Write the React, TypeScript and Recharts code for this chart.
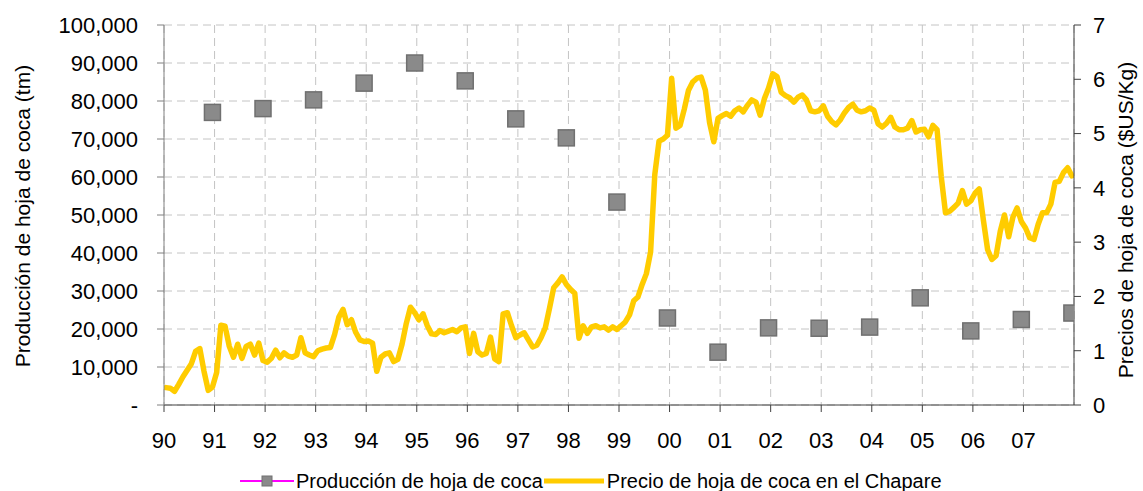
import { CartesianGrid, ComposedChart, Legend, Line, XAxis, YAxis } from 'recharts';

// tick labels, one per year (1990 - 2007)
const yearLabels = ['90', '91', '92', '93', '94', '95', '96', '97', '98', '99', '00', '01', '02', '03', '04', '05', '06', '07'];

// coca leaf production (tm), one per year, plotted at the end of the year
const production = [77000, 78000, 80300, 84700, 90000, 85300, 75300, 70300, 53400, 22900, 13900, 20300, 20200, 20500, 28200, 19500, 22500, 24200];

// monthly price in el Chapare ($US/Kg), Jan 1990 .. Dec 2007
const price1990 = [0.32, 0.31, 0.25, 0.38, 0.52, 0.64, 0.76, 0.99, 1.04, 0.62, 0.27, 0.33];
const price1991 = [0.6, 1.47, 1.45, 1.08, 0.88, 1.12, 0.86, 1.08, 1.12, 0.92, 1.14, 0.82];
const price1992 = [0.79, 0.86, 1.01, 0.87, 0.96, 0.9, 0.88, 0.92, 1.24, 0.96, 0.92, 0.89];
const price1993 = [1.0, 1.03, 1.05, 1.06, 1.3, 1.62, 1.76, 1.48, 1.57, 1.34, 1.2, 1.17];
const price1994 = [1.18, 1.14, 0.62, 0.88, 0.94, 0.96, 0.8, 0.84, 1.12, 1.5, 1.8, 1.7];
const price1995 = [1.57, 1.68, 1.46, 1.31, 1.3, 1.37, 1.33, 1.36, 1.39, 1.35, 1.42, 1.44];
const price1996 = [0.95, 1.32, 0.98, 0.92, 0.95, 1.25, 0.85, 0.8, 1.68, 1.7, 1.46, 1.24];
const price1997 = [1.29, 1.33, 1.2, 1.07, 1.1, 1.24, 1.42, 1.78, 2.16, 2.25, 2.36, 2.22];
const price1998 = [2.13, 2.06, 1.23, 1.46, 1.32, 1.44, 1.46, 1.42, 1.44, 1.38, 1.44, 1.39];
const price1999 = [1.46, 1.53, 1.66, 1.92, 1.99, 2.22, 2.42, 2.82, 4.25, 4.86, 4.9, 4.97];
const price2000 = [6.02, 5.1, 5.15, 5.45, 5.8, 5.95, 6.02, 6.04, 5.8, 5.2, 4.85, 5.28];
const price2001 = [5.33, 5.37, 5.32, 5.42, 5.47, 5.4, 5.52, 5.62, 5.58, 5.34, 5.64, 5.84];
const price2002 = [6.1, 6.05, 5.76, 5.7, 5.66, 5.58, 5.67, 5.71, 5.62, 5.42, 5.4, 5.42];
const price2003 = [5.51, 5.32, 5.22, 5.16, 5.25, 5.38, 5.48, 5.54, 5.43, 5.4, 5.42, 5.47];
const price2004 = [5.43, 5.18, 5.12, 5.19, 5.3, 5.12, 5.07, 5.07, 5.1, 5.24, 5.03, 5.07];
const price2005 = [5.08, 4.94, 5.15, 5.07, 4.2, 3.54, 3.57, 3.64, 3.72, 3.95, 3.7, 3.76];
const price2006 = [3.9, 3.98, 3.4, 2.86, 2.68, 2.75, 3.2, 3.5, 3.1, 3.46, 3.63, 3.38];
const price2007 = [3.26, 3.08, 3.05, 3.33, 3.54, 3.54, 3.7, 4.1, 4.12, 4.28, 4.37, 4.22];

const prices = [
  ...price1990, ...price1991, ...price1992, ...price1993, ...price1994, ...price1995,
  ...price1996, ...price1997, ...price1998, ...price1999, ...price2000, ...price2001,
  ...price2002, ...price2003, ...price2004, ...price2005, ...price2006, ...price2007
];

const data = prices.map((price, i) => ({
  m: i + 0.5,
  price,
  prod: i % 12 === 11 ? production[Math.floor(i / 12)] : null
}));

const yearTicks = yearLabels.map((_, k) => k * 12);
const leftTicks = [0, 10000, 20000, 30000, 40000, 50000, 60000, 70000, 80000, 90000, 100000];
const rightTicks = [0, 1, 2, 3, 4, 5, 6, 7];

const font = '"Liberation Sans", Arial, sans-serif';
const tickStyle = { fill: '#000', fontSize: 22, fontFamily: font };

const renderSquare = (props: any) => {
  const { cx, cy, value, index } = props;
  if (value == null || cy == null || Number.isNaN(cy)) return <g key={`sq${index}`} />;
  return <rect key={`sq${index}`} x={cx - 8} y={cy - 8} width={16} height={16} fill="#8a8a8a" stroke="#707070" strokeWidth={1.5} />;
};

const LeftTitle = () => (
  <text x={30} y={216} transform="rotate(-90, 30, 216)" textAnchor="middle" fontSize={21} fontFamily={font} fill="#000">
    Producción de hoja de coca (tm)
  </text>
);

const RightTitle = () => (
  <text x={1133} y={220} transform="rotate(-90, 1133, 220)" textAnchor="middle" fontSize={21} fontFamily={font} fill="#000">
    Precios de hoja de coca ($US/Kg)
  </text>
);

const renderLegend = () => (
  <div style={{ display: 'flex', alignItems: 'center', height: 36, paddingLeft: 240, fontFamily: font, fontSize: 20, color: '#000', position: 'relative', top: 8 }}>
    <svg width={54} height={20}>
      <line x1={0} y1={10} x2={54} y2={10} stroke="#ff00ff" strokeWidth={2} />
      <rect x={22} y={5} width={10} height={10} fill="#8a8a8a" stroke="#707070" />
    </svg>
    <span style={{ marginLeft: 2 }}>Producción de hoja de coca</span>
    <svg width={62} height={20} style={{ marginLeft: 0 }}>
      <line x1={1} y1={10} x2={61} y2={10} stroke="#ffcc00" strokeWidth={5} />
    </svg>
    <span style={{ marginLeft: 2 }}>Precio de hoja de coca en el Chapare</span>
  </div>
);

export default function App() {
  return (
    <div style={{ position: 'absolute', left: 0, top: 0, background: '#fff' }}>
      <ComposedChart width={1143} height={491} data={data} margin={{ top: 25, right: 0, bottom: 0, left: 0 }}>
        <CartesianGrid yAxisId="left" stroke="#c4c4c4" strokeDasharray="8 5" />
        <XAxis
          dataKey="m"
          type="number"
          domain={[0, 216]}
          ticks={yearTicks}
          tickFormatter={(v) => yearLabels[v / 12]}
          interval={0}
          height={50}
          tick={tickStyle}
          tickSize={7}
          tickMargin={20}
          stroke="#404040"
          allowDataOverflow
        />
        <YAxis
          yAxisId="left"
          domain={[0, 100000]}
          ticks={leftTicks}
          interval={0}
          width={164}
          tick={tickStyle}
          tickSize={7}
          tickMargin={19}
          stroke="#808080"
          tickFormatter={(v) => (v === 0 ? '-' : v.toLocaleString('en-US'))}
          label={<LeftTitle />}
        />
        <YAxis
          yAxisId="right"
          orientation="right"
          domain={[0, 7]}
          ticks={rightTicks}
          interval={0}
          width={69}
          tick={tickStyle}
          tickSize={7}
          tickMargin={12}
          stroke="#404040"
          label={<RightTitle />}
        />
        <Legend verticalAlign="bottom" content={renderLegend} />
        <Line
          yAxisId="left"
          dataKey="prod"
          stroke="none"
          dot={renderSquare}
          activeDot={false}
          isAnimationActive={false}
        />
        <Line
          yAxisId="right"
          dataKey="price"
          type="linear"
          stroke="#ffcc00"
          strokeWidth={5.5}
          strokeLinejoin="round"
          strokeLinecap="round"
          dot={false}
          activeDot={false}
          isAnimationActive={false}
        />
      </ComposedChart>
    </div>
  );
}
